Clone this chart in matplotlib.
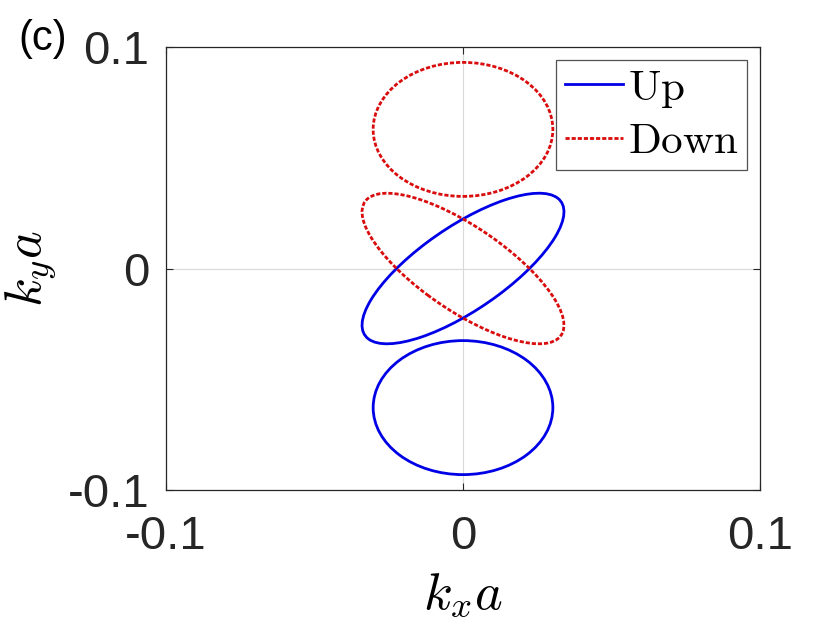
import matplotlib
matplotlib.use("Agg")
import matplotlib.pyplot as plt
from matplotlib.patches import Ellipse
from matplotlib.lines import Line2D

plt.rcParams["font.family"] = ["Liberation Sans", "DejaVu Sans"]
plt.rcParams["mathtext.fontset"] = "cm"

# Fermi contours (centre, full width, full height, angle in degrees)
up_cx = [0.0, 0.0]
up_cy = [0.0, -0.0628]
up_w = [0.090, 0.0605]
up_h = [0.0338, 0.0605]
up_ang = [45, 0]

down_cx = [0.0, 0.0]
down_cy = [0.0, 0.0628]
down_w = [0.090, 0.0605]
down_h = [0.0338, 0.0605]
down_ang = [-45, 0]

ticks = [-0.1, 0, 0.1]
tick_labels = ["-0.1", "0", "0.1"]

blue = (0.0, 0.0, 0.9)
red = (0.85, 0.05, 0.05)
axcol = (0.15, 0.15, 0.15)
dots = (0, (1.5, 0.7))

fig = plt.figure(figsize=(8.4, 6.3), dpi=100)
ax = fig.add_axes([0.1976, 0.2222, 0.7072, 0.7032])

for cx, cy, w, h, a in zip(up_cx, up_cy, up_w, up_h, up_ang):
    ax.add_patch(Ellipse((cx, cy), w, h, angle=a, fill=False, edgecolor=blue, lw=2))
for cx, cy, w, h, a in zip(down_cx, down_cy, down_w, down_h, down_ang):
    ax.add_patch(Ellipse((cx, cy), w, h, angle=a, fill=False, edgecolor=red, lw=2, linestyle=dots))

ax.set_xlim(-0.1, 0.1)
ax.set_ylim(-0.1, 0.1)
ax.set_xticks(ticks)
ax.set_yticks(ticks)
ax.set_xticklabels(tick_labels)
ax.set_yticklabels(tick_labels)
ax.grid(True, color=(0.85, 0.85, 0.85), lw=0.8)
ax.set_axisbelow(True)
ax.tick_params(direction="in", length=5, width=0.8, colors=axcol, labelsize=34,
               top=True, right=True, pad=12)
ax.tick_params(axis="x", pad=18)
for s in ax.spines.values():
    s.set_color(axcol)
    s.set_linewidth(0.9)

ax.set_xlabel(r"$k_xa$", fontsize=38, labelpad=8)
ax.set_ylabel(r"$k_ya$", fontsize=38, labelpad=6)

handles = [Line2D([], [], color=blue, lw=2),
           Line2D([], [], color=red, lw=2, linestyle=dots)]
leg = ax.legend(handles, [r"$\mathrm{Up}$", r"$\mathrm{Down}$"], loc="upper right",
                fontsize=31, frameon=True, fancybox=False, edgecolor=axcol,
                handlelength=1.35, handletextpad=0.12, borderpad=0.2,
                labelspacing=0.28, borderaxespad=0.3)
leg.get_frame().set_linewidth(0.9)

fig.text(0.022, 0.97, "(c)", fontsize=30, va="top", ha="left")

fig.savefig("out.png", dpi=100)
